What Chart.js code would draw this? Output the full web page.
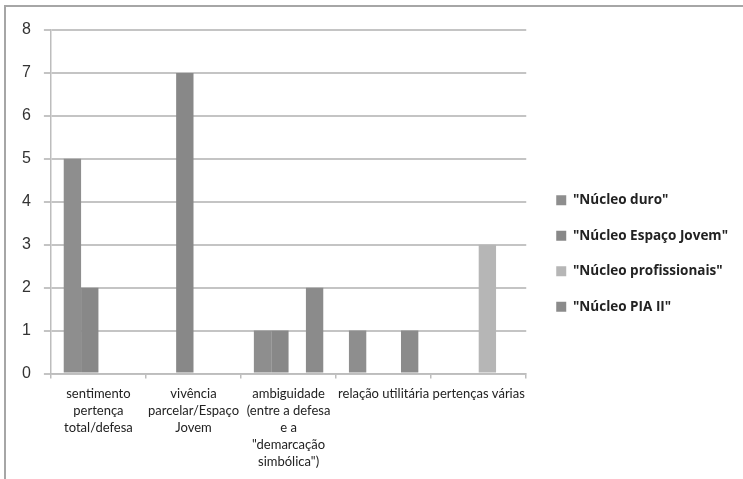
<!DOCTYPE html>
<html>
<head>
<meta charset="utf-8">
<script src="https://cdn.jsdelivr.net/npm/chart.js@4.4.1/dist/chart.umd.min.js"></script>
<style>
  html, body { margin: 0; padding: 0; background: #fff; }
  #frame {
    position: absolute; left: 4px; top: 5px; width: 739px; height: 474px;
    border-left: 2px solid #a6a6a6; border-top: 2px solid #a6a6a6;
  }
  #wrap { position: absolute; left: 0; top: 0; width: 743px; height: 479px; }
</style>
</head>
<body>
<div id="frame"></div>
<div id="wrap"><canvas id="myChart" width="743" height="479"></canvas></div>
<script>
const categories = [
  ["sentimento", "pertença", "total/defesa"],
  ["vivência", "parcelar/Espaço", "Jovem"],
  ["ambiguidade", "(entre a defesa", "e a", "\"demarcação", "simbólica\")"],
  ["relação utilitária"],
  ["pertenças várias"],
];

const nucleoDuro = [5, 0, 1, 1, 0];
const nucleoEspacoJovem = [2, 7, 1, 0, 0];
const nucleoProfissionais = [0, 0, 0, 0, 3];
const nucleoPiaII = [0, 0, 2, 1, 0];

const yTicks = [0, 1, 2, 3, 4, 5, 6, 7, 8];

const ctx = document.getElementById("myChart");

new Chart(ctx, {
  type: "bar",
  data: {
    labels: categories,
    datasets: [
      { label: "\"Núcleo duro\"", data: nucleoDuro, backgroundColor: "#8e8e8e" },
      { label: "\"Núcleo Espaço Jovem\"", data: nucleoEspacoJovem, backgroundColor: "#888888" },
      { label: "\"Núcleo profissionais\"", data: nucleoProfissionais, backgroundColor: "#b6b6b6" },
      { label: "\"Núcleo PIA II\"", data: nucleoPiaII, backgroundColor: "#8b8b8b" },
    ],
  },
  options: {
    responsive: false,
    animation: false,
    layout: { padding: { left: 9, top: 30, right: 5, bottom: 2 } },
    datasets: {
      bar: { barPercentage: 1, categoryPercentage: 0.73 },
    },
    plugins: {
      tooltip: { enabled: false },
      legend: {
        position: "right",
        maxWidth: 220,
        labels: {
          boxWidth: 10,
          boxHeight: 10,
          padding: 22,
          color: "#222",
          font: { family: "Open Sans", size: 13.5, weight: "bold" },
        },
      },
    },
    scales: {
      x: {
        grid: {
          offset: true,
          drawOnChartArea: false,
          drawTicks: true,
          tickLength: 5,
          color: "#bdbdbd",
          lineWidth: 1.5,
        },
        border: { color: "#bdbdbd", width: 1.5 },
        ticks: {
          maxRotation: 0,
          autoSkip: false,
          padding: 7,
          color: "#222",
          font: { family: "Lato", size: 13, lineHeight: 1.3 },
        },
      },
      y: {
        min: 0,
        max: 8,
        afterBuildTicks: (axis) => {
          axis.ticks = yTicks.map((v) => ({ value: v }));
        },
        grid: { color: "#c4c4c4", lineWidth: 2, tickLength: 7 },
        border: { color: "#bdbdbd", width: 1.5 },
        ticks: {
          padding: 13,
          color: "#333",
          font: { family: "Liberation Sans", size: 16 },
        },
      },
      // empty axis on the right, just a gap between the plot and the legend
      gap: {
        type: "linear",
        position: "right",
        grid: { display: false },
        border: { display: false },
        ticks: { display: false },
        afterFit: (axis) => {
          axis.width = 8;
        },
      },
    },
  },
});
</script>
</body>
</html>
